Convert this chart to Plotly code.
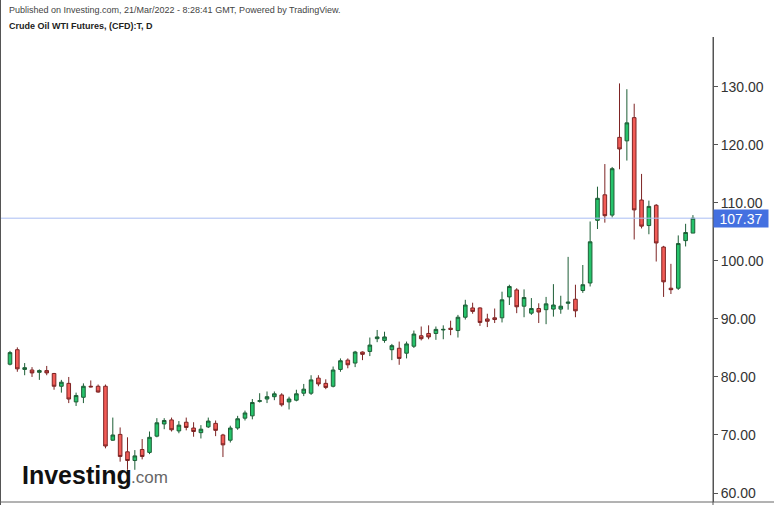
import plotly.graph_objects as go

# OHLC values (daily candles, oldest first)
opens = [82.2, 84.7, 81.3, 81.2, 80.8, 81.1, 80.6, 78.4, 78.9, 75.7,
         76.5, 78.4, 78.4, 78.4, 69.1, 70.1, 67.1, 65.6, 67.5, 67.0,
         69.8, 71.9, 72.6, 70.7, 72.2, 71.2, 70.4, 71.4, 72.0, 70.0,
         69.1, 71.2, 72.9, 73.3, 75.8, 76.2, 76.6, 76.9, 75.7, 76.0,
         77.2, 77.2, 79.8, 78.9, 78.4, 81.3, 82.9, 82.4, 84.3, 84.4,
         86.6, 86.3, 84.7, 84.95, 84.1, 85.3, 87.1, 87.5, 87.5, 88.1,
         88.4, 88.0, 90.3, 91.9, 91.9, 90.0, 90.2, 90.2, 93.8, 95.0,
         92.2, 91.0, 91.8, 91.6, 91.7, 91.7, 92.7, 93.4, 94.9, 96.2,
         107.0, 111.4, 107.9, 121.3, 120.7, 124.7, 110.5, 106.1, 109.6, 102.4,
         95.3, 95.3, 103.5, 104.8]
highs = [84.5, 85.1, 82.4, 81.7, 81.3, 81.9, 80.7, 79.5, 80.0, 77.3,
         78.9, 79.4, 78.7, 78.7, 73.0, 71.3, 69.6, 67.4, 69.3, 70.6,
         72.9, 72.9, 73.0, 72.4, 73.0, 72.2, 71.7, 73.0, 72.5, 70.2,
         71.6, 73.3, 74.2, 76.2, 77.2, 77.5, 77.5, 77.2, 76.6, 77.8,
         78.8, 80.3, 80.3, 79.6, 81.8, 83.2, 83.2, 84.5, 84.4, 86.8,
         88.1, 87.8, 85.7, 86.1, 86.1, 88.0, 88.7, 88.9, 88.7, 88.9,
         89.7, 90.7, 93.3, 92.8, 92.0, 90.9, 91.8, 94.7, 95.9, 95.3,
         95.1, 93.6, 92.7, 93.8, 96.0, 94.0, 100.7, 95.9, 99.3, 106.8,
         112.8, 116.7, 116.2, 130.6, 129.6, 127.1, 115.0, 110.4, 109.8, 102.6,
         99.5, 104.4, 106.4, 107.9]
lows = [82.0, 80.9, 80.3, 80.0, 79.5, 80.3, 77.8, 77.3, 75.5, 75.0,
        75.5, 78.2, 77.3, 67.7, 69.0, 65.4, 64.0, 64.0, 65.8, 66.7,
        69.6, 71.0, 70.6, 70.3, 70.8, 69.7, 69.4, 71.2, 69.8, 66.2,
        68.7, 70.9, 72.5, 72.7, 75.6, 75.5, 76.0, 74.9, 74.4, 75.8,
        76.7, 76.9, 78.4, 77.9, 78.2, 80.9, 81.5, 81.7, 82.9, 83.6,
        86.0, 85.9, 82.9, 82.1, 83.2, 85.0, 86.3, 86.5, 86.4, 86.5,
        87.2, 86.8, 89.9, 90.9, 88.8, 88.6, 89.3, 89.4, 92.4, 91.0,
        90.3, 90.7, 89.3, 89.1, 90.4, 90.9, 91.6, 90.3, 94.5, 95.6,
        105.5, 106.6, 107.5, 115.8, 117.3, 103.7, 105.6, 104.6, 99.9, 93.8,
        94.3, 95.0, 102.5, 104.8]
closes = [84.2, 81.4, 81.6, 80.7, 81.1, 80.7, 78.4, 79.1, 76.2, 76.8,
          78.4, 78.3, 77.4, 68.1, 70.0, 66.3, 65.6, 66.4, 66.3, 69.6,
          72.1, 72.5, 70.9, 71.7, 71.3, 70.6, 71.0, 72.4, 70.8, 68.3,
          71.2, 72.8, 73.8, 75.6, 75.9, 76.6, 77.1, 75.2, 76.2, 77.1,
          77.9, 79.5, 78.8, 78.2, 81.2, 82.8, 82.1, 84.3, 83.9, 85.5,
          86.9, 86.9, 85.4, 83.2, 85.7, 87.4, 86.6, 86.9, 88.2, 88.2,
          88.2, 90.3, 92.4, 91.3, 89.4, 89.6, 89.9, 93.3, 95.6, 92.1,
          93.7, 91.8, 91.2, 92.6, 92.4, 92.2, 92.9, 91.4, 95.9, 103.3,
          110.8, 107.8, 115.9, 119.3, 123.8, 108.8, 106.0, 109.4, 103.1, 96.4,
          95.05, 103.0, 104.9, 107.37]
last_price = 107.37
y_ticks = [60, 70, 80, 90, 100, 110, 120, 130]

idx = list(range(len(opens)))

W, H = 774, 505
L, R, T, B = 0, 61, 37, 3
pw = W - L - R
ph = H - T - B


def px(x):
    return (x - L) / pw


def py(y):
    return (H - B - y) / ph


FONT = "Liberation Sans, Arial, sans-serif"

fig = go.Figure(go.Candlestick(
    x=idx, open=opens, high=highs, low=lows, close=closes,
    increasing=dict(fillcolor="#26c36b", line=dict(color="#1d5e36", width=1)),
    decreasing=dict(fillcolor="#f25c57", line=dict(color="#7d2424", width=1)),
    hoverinfo="skip", showlegend=False,
))

fig.update_layout(
    width=W, height=H,
    margin=dict(l=L, r=R, t=T, b=B, pad=0),
    paper_bgcolor="white", plot_bgcolor="white",
    font=dict(family=FONT, color="#333"),
    showlegend=False,
    xaxis=dict(range=[-1.36, 95.73], visible=False, rangeslider=dict(visible=False),
               showgrid=False, zeroline=False, fixedrange=True),
    yaxis=dict(range=[58.45, 138.6], side="right", showgrid=False, zeroline=False,
               showline=True, linecolor="#555", linewidth=1,
               ticks="outside", ticklen=4, tickcolor="#555",
               tickvals=y_ticks, ticktext=[f"{v:.2f}" for v in y_ticks],
               tickfont=dict(size=14, color="#333", family=FONT)),
)

shapes = [
    # current price line
    dict(type="line", xref="paper", yref="y", x0=0, x1=1, y0=last_price, y1=last_price,
         line=dict(color="#a9bdf3", width=1)),
    # outer left border and bottom border
    dict(type="line", xref="paper", yref="paper", x0=px(0.5), x1=px(0.5), y0=py(H), y1=py(0),
         line=dict(color="#555", width=1)),
    dict(type="line", xref="paper", yref="paper", x0=px(0), x1=px(W), y0=py(502), y1=py(502),
         line=dict(color="#666", width=1)),
    # right axis line extended to bottom
    dict(type="line", xref="paper", yref="paper", x0=1, x1=1, y0=py(H), y1=1,
         line=dict(color="#555", width=1)),
]

annotations = [
    dict(text="Published on Investing.com, 21/Mar/2022 - 8:28:41 GMT, Powered by TradingView.",
         xref="paper", yref="paper", x=px(7), y=py(10), xanchor="left", yanchor="middle",
         showarrow=False, font=dict(size=9, color="#444", family=FONT)),
    dict(text="<b>Crude Oil WTI Futures, (CFD):T, D</b>",
         xref="paper", yref="paper", x=px(7), y=py(26), xanchor="left", yanchor="middle",
         showarrow=False, font=dict(size=9, color="#222", family=FONT)),
    dict(text=f"{last_price:.2f}", xref="paper", yref="y", x=1, y=last_price,
         xanchor="left", yanchor="middle", showarrow=False,
         bgcolor="#4470e0", width=54, height=17, borderpad=0,
         font=dict(size=14, color="white", family=FONT)),
    dict(text="<b>Investing</b>", xref="paper", yref="paper", x=px(20), y=py(475),
         xanchor="left", yanchor="middle", showarrow=False,
         font=dict(size=25, color="#111", family=FONT)),
    dict(text=".com", xref="paper", yref="paper", x=px(129), y=py(477),
         xanchor="left", yanchor="middle", showarrow=False,
         font=dict(size=17, color="#666", family=FONT)),
]

fig.update_layout(shapes=shapes, annotations=annotations)

fig.write_html("out.html")
